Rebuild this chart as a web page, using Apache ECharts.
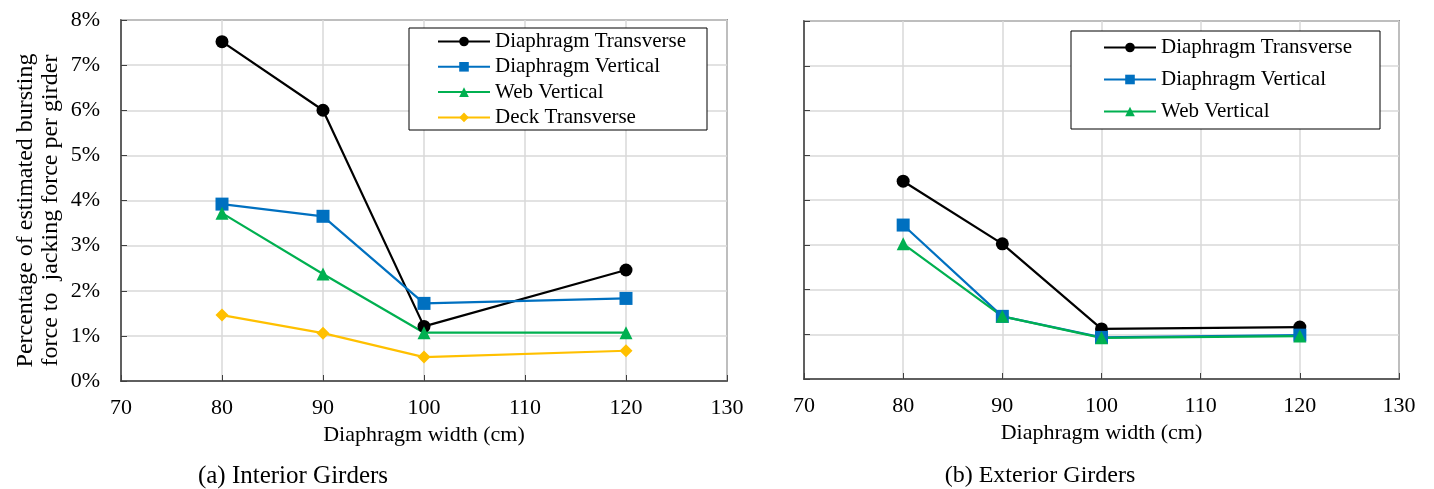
<!DOCTYPE html>
<html><head><meta charset="utf-8">
<script src="https://cdn.jsdelivr.net/npm/echarts@6/dist/echarts.min.js"></script>
<style>html,body{margin:0;padding:0;background:#fff}#c{width:1434px;height:489px}</style>
</head><body><div id="c"></div>
<script>
const widths = [80, 90, 100, 120];
const xTicks = [70, 80, 90, 100, 110, 120, 130];
const yTicks = [0, 1, 2, 3, 4, 5, 6, 7, 8];
const seriesNamesA = ['Diaphragm Transverse', 'Diaphragm Vertical', 'Web Vertical', 'Deck Transverse'];
const seriesNamesB = ['Diaphragm Transverse', 'Diaphragm Vertical', 'Web Vertical'];
// Interior girders (%)
const intDiaTrans = [7.52, 6.00, 1.21, 2.46];
const intDiaVert = [3.92, 3.65, 1.72, 1.83];
const intWebVert = [3.72, 2.37, 1.07, 1.07];
const intDeckTrans = [1.46, 1.06, 0.53, 0.67];
// Exterior girders (%)
const extDiaTrans = [4.42, 3.02, 1.12, 1.16];
const extDiaVert = [3.44, 1.40, 0.93, 0.98];
const extWebVert = [3.02, 1.40, 0.92, 0.96];

const colors = {'Diaphragm Transverse':'#000000','Diaphragm Vertical':'#0070C0','Web Vertical':'#00B050','Deck Transverse':'#FFC000'};
const symbols = {'Diaphragm Transverse':'circle','Diaphragm Vertical':'rect','Web Vertical':'triangle','Deck Transverse':'diamond'};
const font = '"Liberation Serif", "Times New Roman", serif';

function pairs(vals){ return widths.map((w,i)=>[w, vals[i]]); }
function mk(name, vals, idx){
  return {name, type:'line', xAxisIndex:idx, yAxisIndex:idx, data:pairs(vals),
    symbol:symbols[name], symbolSize:13, color:colors[name],
    lineStyle:{width:2.2, color:colors[name]}, itemStyle:{color:colors[name]}};
}
function xAx(idx){
  return {type:'value', gridIndex:idx, min:xTicks[0], max:xTicks[xTicks.length-1], interval:10,
    name:'Diaphragm width (cm)', nameLocation:'middle', nameGap:43,
    nameTextStyle:{fontFamily:font, fontSize:22, color:'#000'},
    axisLine:{show:true, lineStyle:{color:'#404040', width:1.5}},
    axisTick:{show:true, inside:true, length:6, lineStyle:{color:'#404040'}},
    axisLabel:{fontFamily:font, fontSize:22, color:'#000', margin:16},
    splitLine:{show:true, lineStyle:{color:'#d9d9d9', width:1.5}}};
}
function yAx(idx, labels){
  const o = {type:'value', gridIndex:idx, min:yTicks[0], max:yTicks[yTicks.length-1], interval:1,
    axisLine:{show:true, lineStyle:{color:'#404040', width:1.5}},
    axisTick:{show:true, inside:true, length:6, lineStyle:{color:'#404040'}},
    axisLabel:{show:labels, fontFamily:font, fontSize:22, color:'#000', margin:21, formatter:'{value}%'},
    splitLine:{show:true, lineStyle:{color:'#d9d9d9', width:1.5}}};
  if(labels){
    o.name = 'Percentage of estimated bursting\nforce to  jacking force per girder';
    o.nameLocation='middle'; o.nameGap=58; o.nameRotate=90;
    o.nameTextStyle={fontFamily:font, fontSize:24, color:'#000', lineHeight:25, padding:[0,20,0,0]};
  }
  return o;
}
const legendText = {fontFamily:font, fontSize:21, color:'#000', lineHeight:21};
const chart = echarts.init(document.getElementById('c'), null, {renderer:'canvas'});
chart.setOption({
  animation:false,
  backgroundColor:'#fff',
  grid:[
    {left:121, top:20, width:606, height:361, show:true, borderColor:'#404040', borderWidth:1.5, containLabel:false},
    {left:804, top:21, width:595, height:358, show:true, borderColor:'#404040', borderWidth:1.5, containLabel:false}
  ],
  xAxis:[xAx(0), xAx(1)],
  yAxis:[yAx(0,true), yAx(1,false)],
  graphic:[
    {type:'rect', shape:{x:409, y:28, width:298, height:102}, style:{fill:'#fff', stroke:'#000', lineWidth:1}, z:50},
    {type:'rect', shape:{x:1071, y:31, width:309, height:98}, style:{fill:'#fff', stroke:'#000', lineWidth:1}, z:50},
    {type:'text', x:293, y:476, style:{text:'(a) Interior Girders', font:'25px ' + font, fill:'#000', textAlign:'center', textVerticalAlign:'middle'}},
    {type:'text', x:1040, y:476, style:{text:'(b) Exterior Girders', font:'24px ' + font, fill:'#000', textAlign:'center', textVerticalAlign:'middle'}}
  ],
  legend:[
    {data:seriesNamesA, orient:'vertical', left:437, top:31, itemWidth:52, itemHeight:12, itemGap:4.3,
     padding:0, textStyle:legendText, selectedMode:false, z:60},
    {data:seriesNamesB, orient:'vertical', left:1103, top:37, itemWidth:52, itemHeight:12, itemGap:11,
     padding:0, textStyle:legendText, selectedMode:false, z:60}
  ],
  series:[
    mk('Diaphragm Transverse', intDiaTrans, 0),
    mk('Diaphragm Vertical', intDiaVert, 0),
    mk('Web Vertical', intWebVert, 0),
    mk('Deck Transverse', intDeckTrans, 0),
    mk('Diaphragm Transverse', extDiaTrans, 1),
    mk('Diaphragm Vertical', extDiaVert, 1),
    mk('Web Vertical', extWebVert, 1)
  ]
});
</script></body></html>
